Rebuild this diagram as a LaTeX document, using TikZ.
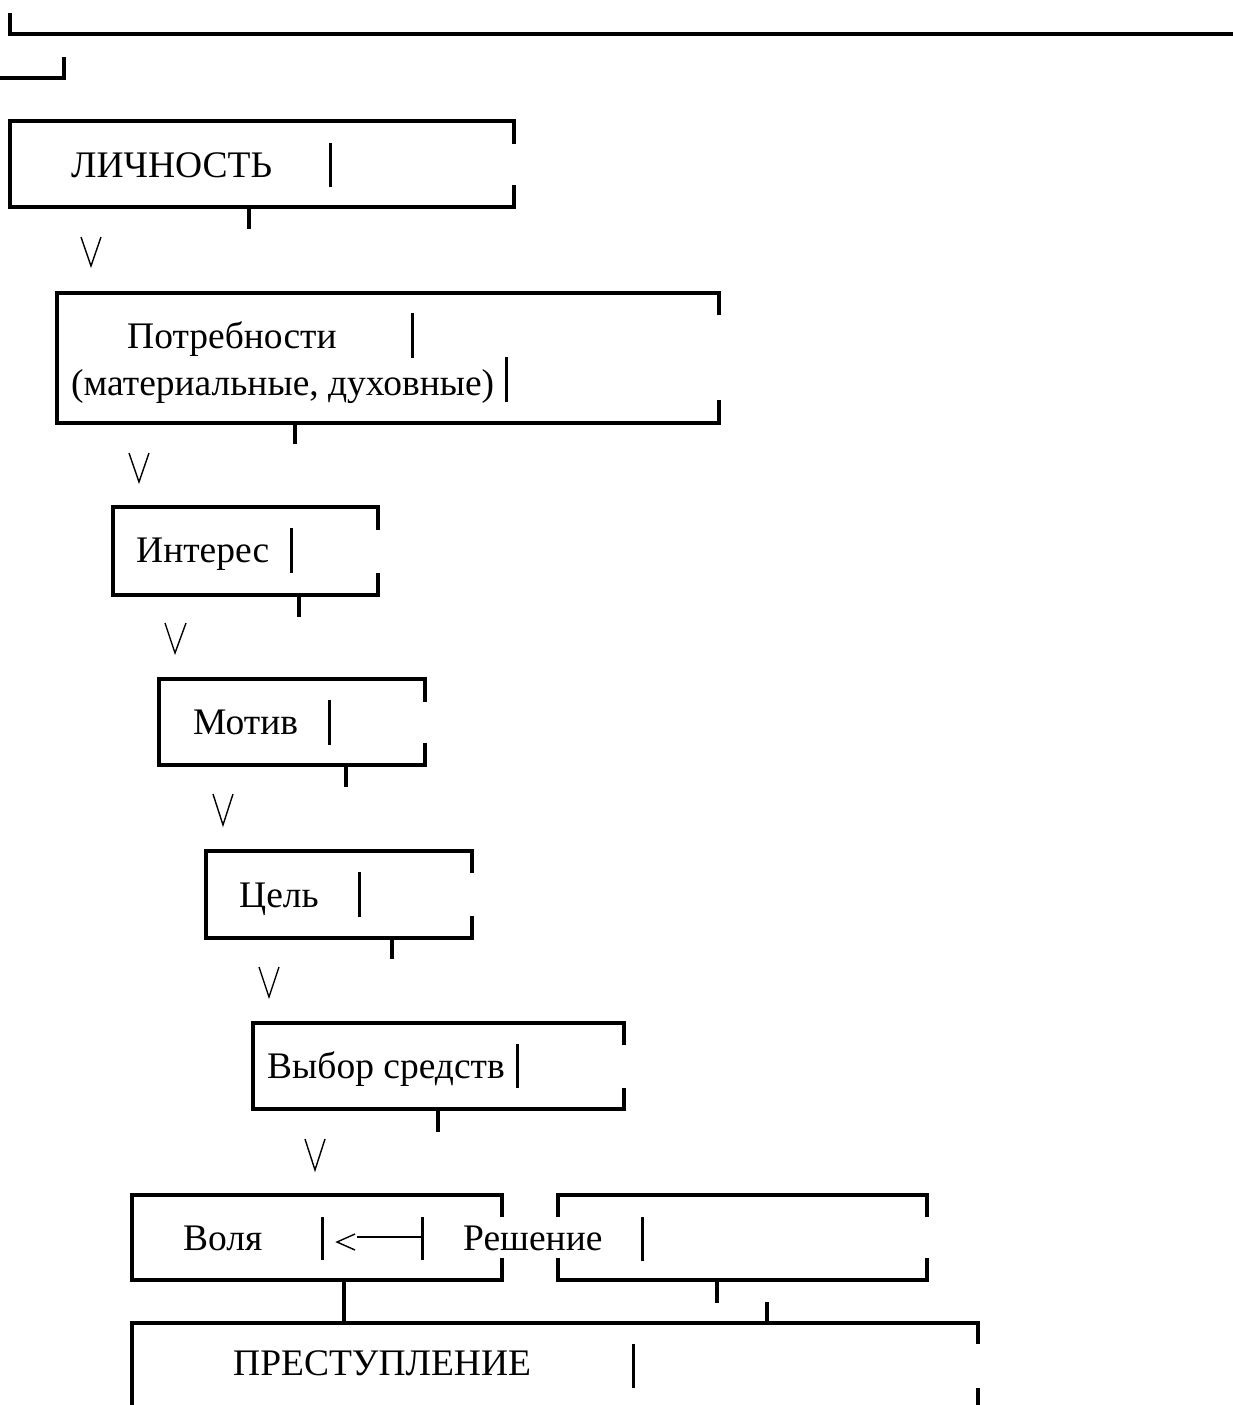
\documentclass[tikz,border=0pt]{standalone}
\usepackage{fontspec}
\setmainfont{Liberation Serif}
\begin{document}
\begin{tikzpicture}[x=1pt,y=-1pt,
  frame/.style={line width=3.4pt,line join=miter},
  bar/.style={line width=3pt},
  vee/.style={line width=1.4pt,line join=miter},
  lbl/.style={anchor=base west,inner sep=0pt,font=\fontsize{37.5}{45}\selectfont}]
\useasboundingbox (0,0) rectangle (1232,1405);
% top fragments
\draw[frame] (10,13) -- (10,34) -- (1240,34);
\draw[frame] (-5,78) -- (64,78) -- (64,57);
% box 1
\draw[frame] (514,144) -- (514,121) -- (10,121) -- (10,207) -- (514,207) -- (514,185);
\node[lbl] (lich) at (71,177) {ЛИЧНОСТЬ};
\draw[bar] (330,143) -- (330,187);
\draw[frame] (249,207) -- (249,229);
\draw[vee] (81,237) -- (91,266) -- (101,237);
% box 2
\draw[frame] (719,315) -- (719,293) -- (57,293) -- (57,423) -- (719,423) -- (719,400);
\node[lbl] (potr) at (127,348) {Потребности};
\draw[bar] (412,313) -- (412,358);
\node[lbl] (mat) at (71,395) {(материальные, духовные)};
\draw[bar] (506,357) -- (506,402);
\draw[frame] (295,423) -- (295,444);
\draw[vee] (129,453) -- (139,482) -- (149,453);
% box 3
\draw[frame] (378,530) -- (378,507) -- (113,507) -- (113,595) -- (378,595) -- (378,573);
\node[lbl] (inter) at (136,562) {Интерес};
\draw[bar] (291,528) -- (291,573);
\draw[frame] (299,595) -- (299,617);
\draw[vee] (165,623) -- (175,653) -- (186,623);
% box 4
\draw[frame] (425,702) -- (425,679) -- (159,679) -- (159,765) -- (425,765) -- (425,743);
\node[lbl] (motiv) at (193,734) {Мотив};
\draw[bar] (329,700) -- (329,745);
\draw[frame] (346,765) -- (346,787);
\draw[vee] (213,794) -- (223,825) -- (233,794);
% box 5
\draw[frame] (472,873) -- (472,851) -- (206,851) -- (206,938) -- (472,938) -- (472,916);
\node[lbl] (cel) at (239,907) {Цель};
\draw[bar] (359,872) -- (359,917);
\draw[frame] (392,938) -- (392,959);
\draw[vee] (259,967) -- (269,997) -- (279,967);
% box 6
\draw[frame] (624,1045) -- (624,1023) -- (253,1023) -- (253,1109) -- (624,1109) -- (624,1088);
\node[lbl] (vybor) at (267,1078) {Выбор средств};
\draw[bar] (517,1044) -- (517,1088);
\draw[frame] (438,1109) -- (438,1132);
\draw[vee] (305,1139) -- (315,1170) -- (325,1139);
% box 7
\draw[frame] (502,1217) -- (502,1195) -- (132,1195) -- (132,1280) -- (502,1280) -- (502,1258);
\node[lbl] (volya) at (183,1250) {Воля};
\draw[bar] (322,1217) -- (322,1260);
\draw[vee] (355,1234) -- (337,1242) -- (355,1250);
\draw[line width=2.6pt] (357,1237) -- (422,1237);
\draw[bar] (422,1217) -- (422,1260);
\node[lbl] (resh) at (463,1250) {Решение};
\draw[bar] (642,1217) -- (642,1261);
% box 8
\draw[frame] (558,1217) -- (558,1195) -- (927,1195) -- (927,1217);
\draw[frame] (558,1258) -- (558,1280) -- (927,1280) -- (927,1258);
% links to box 9
\draw[frame] (344,1280) -- (344,1323);
\draw[frame] (717,1280) -- (717,1303);
\draw[frame] (767,1302) -- (767,1323);
% box 9
\draw[frame] (978,1344) -- (978,1323) -- (132,1323) -- (132,1415);
\draw[frame] (978,1388) -- (978,1415);
\node[lbl] (prest) at (233,1375) {ПРЕСТУПЛЕНИЕ};
\draw[bar] (633,1344) -- (633,1388);
\end{tikzpicture}
\end{document}
